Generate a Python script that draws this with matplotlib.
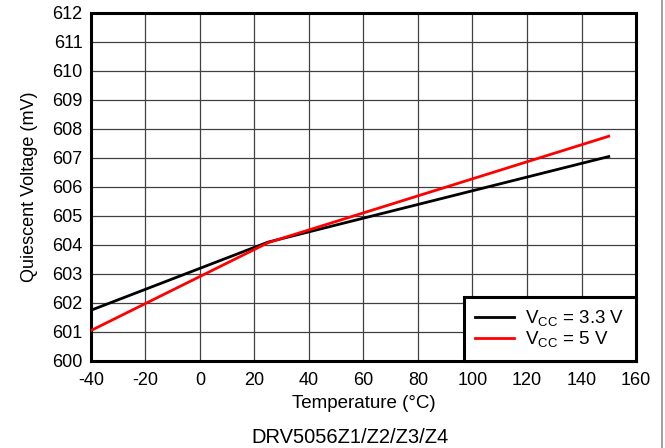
import matplotlib
matplotlib.use('Agg')
import matplotlib.pyplot as plt
from matplotlib.lines import Line2D

plt.rcParams['font.family'] = ['Liberation Sans', 'DejaVu Sans']
plt.rcParams['axes.unicode_minus'] = False

# Quiescent voltage vs temperature
temp = [-40, 25, 150]
vq_33 = [601.75, 604.1, 607.05]
vq_5 = [601.05, 604.08, 607.75]

xticks = [-40, -20, 0, 20, 40, 60, 80, 100, 120, 140, 160]
yticks = [600, 601, 602, 603, 604, 605, 606, 607, 608, 609, 610, 611, 612]

fig = plt.figure(figsize=(6.65, 4.48), dpi=100)
ax = fig.add_axes([0.1368, 0.1942, 0.8196, 0.7768])

ax.plot(temp, vq_33, color='black', lw=2, label=r'V$_{\mathregular{CC}}$ = 3.3 V', zorder=3)
ax.plot(temp, vq_5, color='#ff0000', lw=2, label=r'V$_{\mathregular{CC}}$ = 5 V', zorder=3)

ax.set_xlim(-40, 160)
ax.set_ylim(600, 612)
ax.set_xticks(xticks)
ax.set_yticks(yticks)
ax.tick_params(length=0, labelsize=13)
ax.tick_params(axis='x', pad=8)
ax.tick_params(axis='y', pad=6)
ax.grid(True, color='#404040', lw=0.9)
ax.set_axisbelow(True)
for sp in ax.spines.values():
    sp.set_linewidth(2.2)

ax.set_xlabel('Temperature (°C)', fontsize=13.5, labelpad=4)
ax.set_ylabel('Quiescent Voltage (mV)', fontsize=13, labelpad=10)

leg = ax.legend(loc='lower right', bbox_to_anchor=(1, 0), borderaxespad=0,
                fontsize=13.5, fancybox=False, framealpha=1, edgecolor='black',
                handlelength=2.1, handletextpad=0.6, labelspacing=0.05, borderpad=0.6)
leg.get_frame().set_linewidth(2.2)

fig.text(0.527, 0.003, 'DRV5056Z1/Z2/Z3/Z4', ha='center', va='bottom', fontsize=14.5)
fig.add_artist(Line2D([0.995, 0.995], [0, 1], color='#909090', lw=1.2))

fig.savefig('out.png', dpi=100)
